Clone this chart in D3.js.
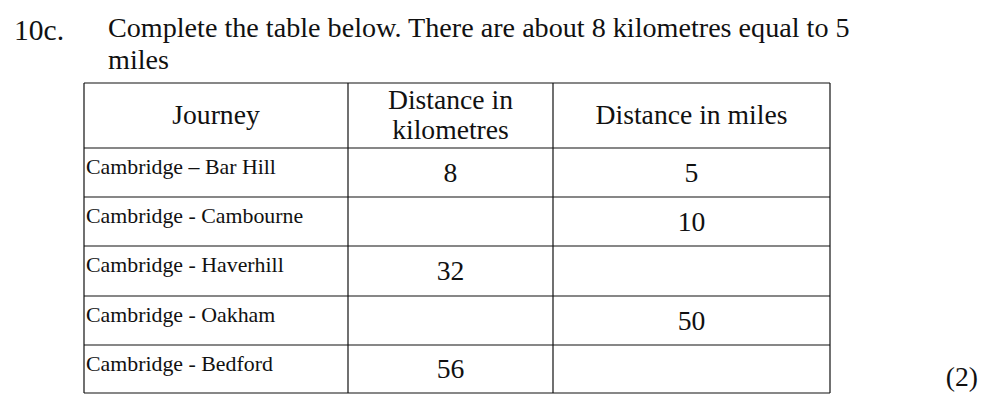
<!DOCTYPE html>
<html><head><meta charset="utf-8">
<script src="https://cdn.jsdelivr.net/npm/d3@7"></script>
<style>body{margin:0;background:#fff}svg{display:block}</style>
</head><body><svg></svg>
<script>
const journeys = ["Cambridge \u2013 Bar Hill","Cambridge - Cambourne","Cambridge - Haverhill","Cambridge - Oakham","Cambridge - Bedford"];
const km = ["8","","32","","56"];
const miles = ["5","10","","50",""];
const headers = [["Journey"],["Distance in","kilometres"],["Distance in miles"]];

const width = 1001, height = 410;
const FONT = '"Liberation Serif", "DejaVu Serif", serif';
const svg = d3.select('svg').attr('width', width).attr('height', height);

function txt(parent, x, y, size, s, anchor) {
  return parent.append('text').attr('x', x).attr('y', y)
    .attr('font-family', FONT).attr('font-size', size).attr('fill', '#111')
    .attr('text-anchor', anchor || 'start').text(s);
}
// scale a font size so a reference string spans a given width
function fitSize(s, target) {
  const t = txt(svg, 0, -100, 100, s);
  const w = t.node().getComputedTextLength();
  t.remove();
  return 100 * target / w;
}

const bodySize = fitSize('Complete the table below. There are about 8 kilometres equal to 5', 742);
const headSize = fitSize('Distance in miles', 192);
const labelSize = fitSize('Cambridge \u2013 Bar Hill', 190);

txt(svg, 14, 40, bodySize * 1.05, '10c.');
txt(svg, 108, 37, bodySize, 'Complete the table below. There are about 8 kilometres equal to 5');
txt(svg, 108, 69, bodySize, 'miles');
txt(svg, 978, 386, headSize, '(2)', 'end');

const colEdges = [84, 348, 553, 830];
const rowEdges = [83, 148, 197, 246, 296, 345, 393];

const g = svg.append('g');
colEdges.forEach(x => g.append('line').attr('x1', x).attr('x2', x).attr('y1', rowEdges[0]).attr('y2', rowEdges[6]).attr('stroke', '#111').attr('stroke-width', 1.2));
rowEdges.forEach(y => g.append('line').attr('x1', colEdges[0]).attr('x2', colEdges[3]).attr('y1', y).attr('y2', y).attr('stroke', '#111').attr('stroke-width', 1.2));

headers.forEach((lines, i) => {
  const cx = (colEdges[i] + colEdges[i + 1]) / 2;
  const cy = (rowEdges[0] + rowEdges[1]) / 2;
  lines.forEach((t, j) => {
    txt(g, cx, cy + 8 + (j - (lines.length - 1) / 2) * 30, headSize, t, 'middle');
  });
});

journeys.forEach((j, i) => {
  const top = rowEdges[i + 1], bot = rowEdges[i + 2];
  txt(g, 86, top + 26, labelSize, j);
  const cy = (top + bot) / 2 + 9;
  txt(g, (colEdges[1] + colEdges[2]) / 2, cy, headSize, km[i], 'middle');
  txt(g, (colEdges[2] + colEdges[3]) / 2, cy, headSize, miles[i], 'middle');
});
</script></body></html>
